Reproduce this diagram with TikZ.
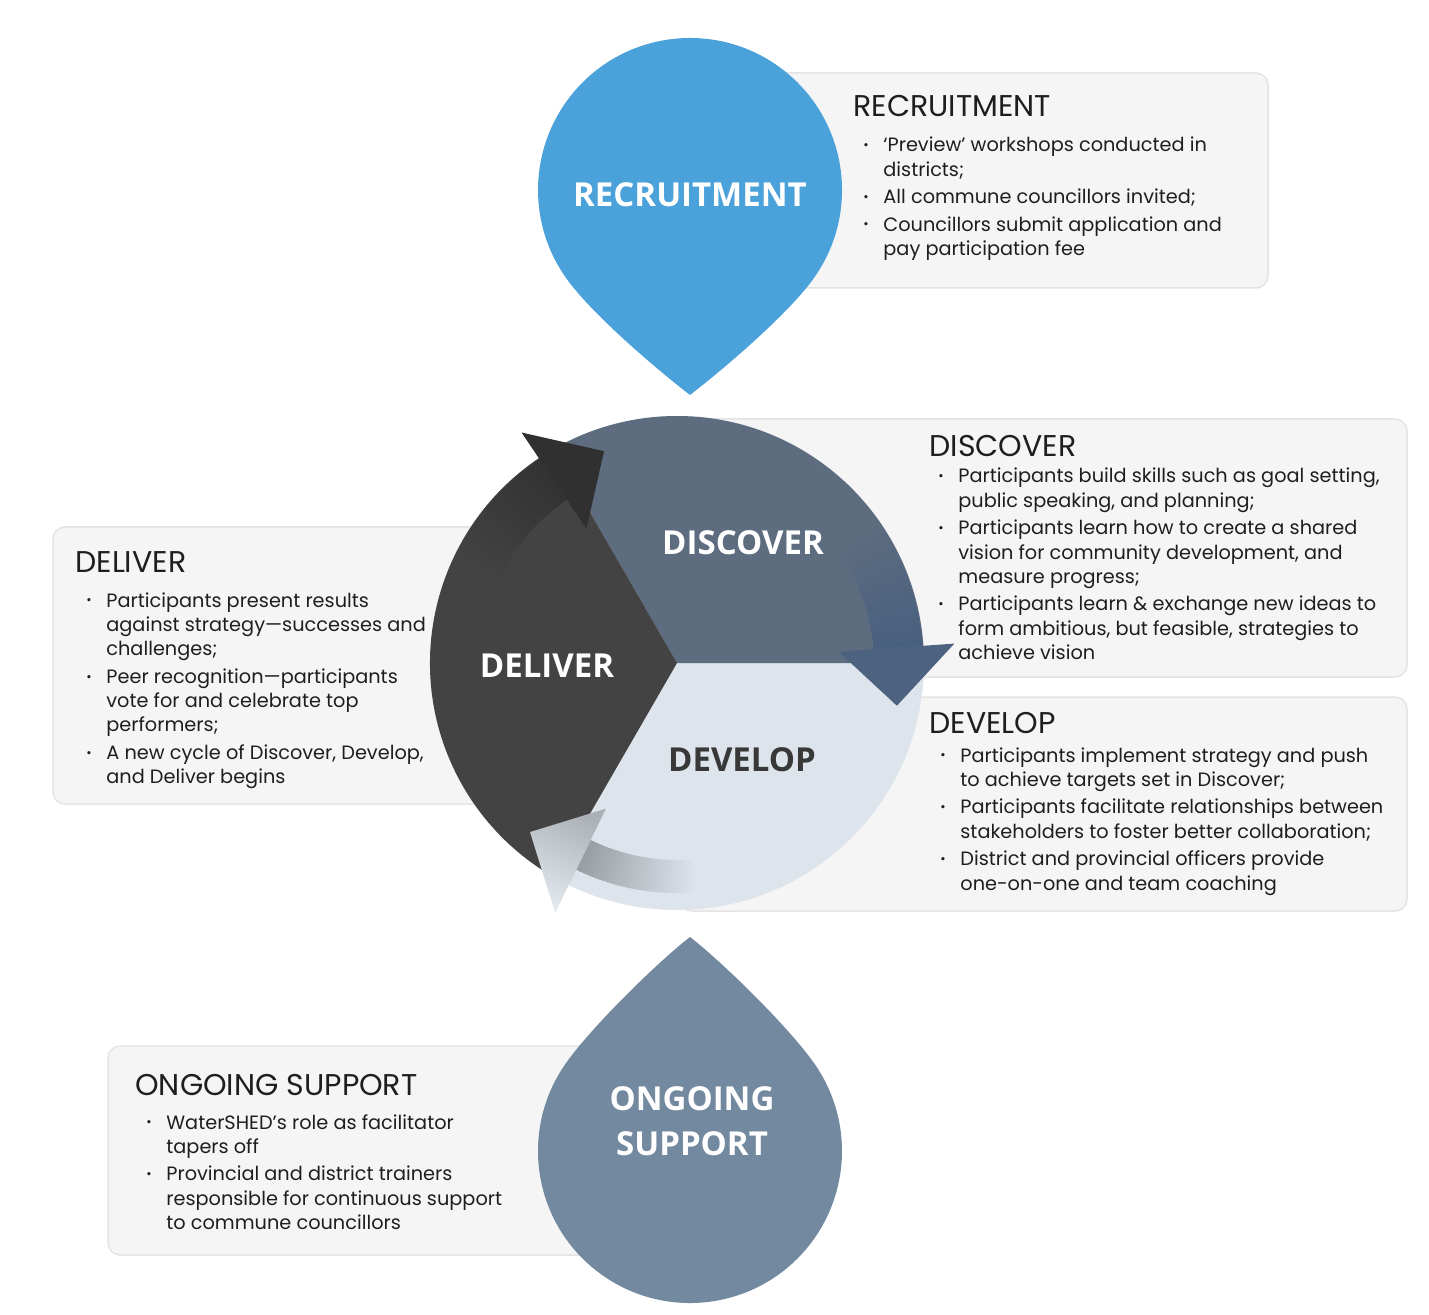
\documentclass[tikz,border=0pt]{standalone}
\usepackage{fontspec}
\setmainfont{Poppins}
\newfontfamily\labelfont{Open Sans}

\definecolor{recruitcol}{HTML}{4BA1DA}
\definecolor{supportcol}{HTML}{72899F}
\definecolor{discovercol}{HTML}{5D6C7F}
\definecolor{delivercol}{HTML}{434343}
\definecolor{developcol}{HTML}{DDE4EB}
\definecolor{deliverhead}{HTML}{303030}
\definecolor{deliverbody}{HTML}{333333}
\definecolor{discoverhead}{HTML}{4C627E}
\definecolor{discoverbody}{HTML}{48607F}
\definecolor{develophead}{HTML}{E3E8EE}
\definecolor{developbody}{HTML}{9A9FA5}
\definecolor{boxfill}{HTML}{F5F5F5}
\definecolor{boxline}{HTML}{E4E4E4}
\definecolor{ink}{HTML}{1E1E1E}

% small bullet in front of each item
\newcommand{\itemdot}{\makebox[10pt][l]{\raisebox{1.1pt}{\fontsize{6.5}{6.5}\selectfont •}}}

% curved arrow of the cycle: #1 boundary angle, #2 head options, #3 body,
% #4 sector below, #5 outer radius of the body
\newcommand{\cyclearrow}[5]{%
  \foreach \k in {29,...,0}{%
    \pgfmathsetmacro{\a}{#1+4+\k}
    \pgfmathtruncatemacro{\mix}{100-3.3*\k}
    \fill[#3!\mix!#4] (\a:197) arc[start angle=\a, end angle=\a+1.4, radius=197]
      -- (\a+1.4:#5) arc[start angle=\a+1.4, end angle=\a, radius=#5] -- cycle;
  }
  \path[#2] (#1+4:246) -- (#1+4:278) -- (#1-11:224) -- (#1+4:162) -- (#1+4:197) -- cycle;
}

\tikzset{
  infobox/.style={fill=boxfill, draw=boxline, line width=0.75pt, rounded corners=6pt},
  boxtitle/.style={anchor=base west, inner sep=0pt, text=ink, font=\fontsize{15}{17}\selectfont},
  boxlist/.style={anchor=base west, inner sep=0pt, text=ink, font=\fontsize{9.65}{12.2}\selectfont},
  droplabel/.style={inner sep=0pt, text=white, align=center,
    font=\labelfont\bfseries\fontsize{16.5}{22.5}\selectfont},
}

\begin{document}
\begin{tikzpicture}[x=0.5pt, y=0.5pt]
  \useasboundingbox (0,0) rectangle (1429,-1315);

  % boxes behind the shapes
  \draw[infobox] (760,-73) rectangle (1268,-288);
  \draw[infobox] (680,-419) rectangle (1407,-677);
  \draw[infobox] (680,-697) rectangle (1407,-911);
  \draw[infobox] (53,-527) rectangle (560,-804);
  \draw[infobox] (108,-1046) rectangle (640,-1255);

  % the cycle
  \begin{scope}[shift={(677,-663)}]
    \fill[developcol] (0,0) circle[radius=247];
    \fill[discovercol] (0,0) -- (0:247) arc[start angle=0, end angle=120, radius=247] -- cycle;
    \fill[delivercol] (0,0) -- (120:247) arc[start angle=120, end angle=240, radius=247] -- cycle;

    \cyclearrow{120}{fill=deliverhead}{deliverbody}{delivercol}{246}
    \cyclearrow{0}{fill=discoverhead}{discoverbody}{discovercol}{246}
    \cyclearrow{240}{top color=developbody!75!develophead, bottom color=develophead,
      shading angle=-26}{developbody}{developcol}{230}

    \node[droplabel] (discoverlabel) at (66,120) {DISCOVER};
    \node[droplabel] (deliverlabel) at (-130,-3) {DELIVER};
    \node[droplabel, text=black!78] (developlabel) at (65,-97) {DEVELOP};
  \end{scope}

  % drops
  \begin{scope}[shift={(690,-190)}]
    \fill[recruitcol] (0,-205) .. controls (31.6,-180.6) and (98.7,-124.1) .. (-35:152)
      arc[start angle=-35, end angle=215, radius=152]
      .. controls (-98.7,-124.1) and (-31.6,-180.6) .. cycle;
    \node[droplabel] (recruitlabel) at (0,-5) {RECRUITMENT};
  \end{scope}
  \begin{scope}[shift={(690,-1151)}]
    \fill[supportcol] (0,214) .. controls (-31.6,189.6) and (-98.7,124.1) .. (145:152)
      arc[start angle=145, end angle=395, radius=152]
      .. controls (98.7,124.1) and (31.6,189.6) .. cycle;
    \node[droplabel] (supportlabel) at (2,29.5) {ONGOING\\SUPPORT};
  \end{scope}

  % texts
  \node[boxtitle] (recruithead) at (853,-117) {RECRUITMENT};
  \node[boxlist] (recruitlist) at (863,-152) {\begin{tabular}[t]{@{}l@{}l@{}}
    \itemdot & ‘Preview’ workshops conducted in\\
             & districts;\\[1.5pt]
    \itemdot & All commune councillors invited;\\[1.5pt]
    \itemdot & Councillors submit application and\\
             & pay participation fee
  \end{tabular}};

  \node[boxtitle] (discoverhead) at (929,-457) {DISCOVER};
  \node[boxlist] (discoverlist) at (938,-483) {\begin{tabular}[t]{@{}l@{}l@{}}
    \itemdot & Participants build skills such as goal setting,\\
             & public speaking, and planning;\\[1.5pt]
    \itemdot & Participants learn how to create a shared\\
             & vision for community development, and\\
             & measure progress;\\[1.5pt]
    \itemdot & Participants learn \& exchange new ideas to\\
             & form ambitious, but feasible, strategies to\\
             & achieve vision
  \end{tabular}};

  \node[boxtitle] (develophead) at (929,-733) {DEVELOP};
  \node[boxlist] (developlist) at (940,-762) {\begin{tabular}[t]{@{}l@{}l@{}}
    \itemdot & Participants implement strategy and push\\
             & to achieve targets set in Discover;\\[1.5pt]
    \itemdot & Participants facilitate relationships between\\
             & stakeholders to foster better collaboration;\\[1.5pt]
    \itemdot & District and provincial officers provide\\
             & one-on-one and team coaching
  \end{tabular}};

  \node[boxtitle] (deliverhead) at (75,-573) {DELIVER};
  \node[boxlist] (deliverlist) at (86,-607) {\begin{tabular}[t]{@{}l@{}l@{}}
    \itemdot & Participants present results\\
             & against strategy—successes and\\
             & challenges;\\[1.5pt]
    \itemdot & Peer recognition—participants\\
             & vote for and celebrate top\\
             & performers;\\[1.5pt]
    \itemdot & A new cycle of Discover, Develop,\\
             & and Deliver begins
  \end{tabular}};

  \node[boxtitle] (supporthead) at (135,-1095) {ONGOING SUPPORT};
  \node[boxlist] (supportlist) at (146,-1129) {\begin{tabular}[t]{@{}l@{}l@{}}
    \itemdot & WaterSHED’s role as facilitator\\
             & tapers off\\[1.5pt]
    \itemdot & Provincial and district trainers\\
             & responsible for continuous support\\
             & to commune councillors
  \end{tabular}};
\end{tikzpicture}
\end{document}
